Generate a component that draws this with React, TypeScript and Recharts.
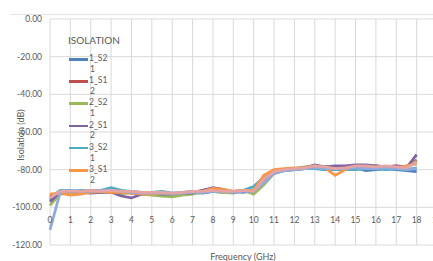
import { LineChart, Line, XAxis, YAxis, CartesianGrid, Legend } from 'recharts'

const freqs = [
  0, 0.5, 1, 1.5, 2, 2.5, 3, 3.5, 4, 4.5, 5, 5.5, 6, 6.5, 7, 7.5, 8, 8.5, 9,
  9.5, 10, 10.5, 11, 11.5, 12, 12.5, 13, 13.5, 14, 14.5, 15, 15.5, 16, 16.5, 17, 17.5, 18,
]

const s1_21 = [-96, -91.5, -91, -92, -91.5, -91, -91, -92, -91.5, -92.5, -93, -92.5, -93.5, -93, -92, -92.5, -91.5, -92, -91.5, -92, -91, -86, -82, -80.5, -80, -79.5, -79, -80, -79.5, -80, -79, -80.5, -80, -79.5, -80, -80.5, -81]
const s1_12 = [-94, -92, -92.5, -91.5, -91, -91.5, -91.5, -92, -92.5, -92, -92.5, -93, -93, -92.5, -92, -91, -90, -91, -91.5, -91, -91.5, -85, -81, -80, -79.5, -79, -78, -78.5, -79, -78.5, -78, -78.5, -78, -78.5, -78, -78.5, -75]
const s2_21 = [-99, -93, -92.5, -92, -91.5, -92, -91.5, -93, -92, -93, -93.5, -94, -94.5, -93.5, -93, -92, -91.5, -92, -92.5, -91, -93, -88, -82, -80, -79.5, -78.5, -78, -78.5, -79, -79, -78.5, -79, -78.5, -79, -79, -78.5, -75.5]
const s2_12 = [-97, -92, -91.5, -92, -92.5, -92, -92, -94, -95, -93, -92.5, -93, -93, -92.5, -92.5, -91, -89.5, -90.5, -92, -91.5, -91.5, -84, -80.5, -80, -79.5, -79, -77.5, -78.5, -78, -78, -77.5, -77.5, -78, -78.5, -78, -79, -72]
const s3_21 = [-95, -91, -91.5, -91, -91.5, -91, -89.5, -91, -91.5, -92, -92, -91.5, -92.5, -92, -91.5, -92, -91.5, -91, -92, -91, -89, -84, -81, -80.5, -80, -79.5, -79.5, -80, -80, -80, -80, -79.5, -79.5, -80, -79.5, -80, -79]
const s3_12 = [-93, -92.5, -93.5, -93, -92, -91.5, -92, -92, -92.5, -93, -93, -92.5, -93, -92.5, -92, -91.5, -90, -90.5, -91.5, -91, -91, -83, -80, -79.5, -79, -79, -78, -79, -83, -80, -78.5, -78.5, -79, -78.5, -79, -78, -77]
const s4_21 = [-112, -92, -91, -91.5, -91.5, -91, -91, -91.5, -92, -92.5, -92.5, -92.5, -93, -92.5, -92, -92, -91.5, -91.5, -92, -91.5, -91.5, -87, -82, -80.5, -80, -79.5, -79, -79.5, -79.5, -79.5, -79, -79.5, -79.5, -79, -79.5, -80, -79.5]
const s4_12 = [-95, -91.5, -91.5, -91.5, -91, -91.5, -91, -91.5, -91.5, -92, -92, -92, -92.5, -92, -91.5, -91.5, -91, -91.5, -91.5, -91, -91.5, -85, -81, -80, -79.5, -79, -78, -78.5, -79.5, -79, -78, -78, -78.5, -78, -78.5, -79, -76]

const seriesNames = ['1_S21', '1_S12', '2_S21', '2_S12', '3_S21', '3_S12', '4_S21', '4_S12']
const seriesColors = ['#4F81BD', '#C0504D', '#9BBB59', '#8064A2', '#4BACC6', '#F79646', '#8FAADC', '#E6A3A2']
const seriesValues = [s1_21, s1_12, s2_21, s2_12, s3_21, s3_12, s4_21, s4_12]

const xTicks = [0, 1, 2, 3, 4, 5, 6, 7, 8, 9, 10, 11, 12, 13, 14, 15, 16, 17, 18, 19]
const yTicks = [0, -20, -40, -60, -80, -100, -120]

const data = freqs.map((f, i) => {
  const row: any = { f }
  seriesNames.forEach((n, k) => { row[n] = seriesValues[k][i] })
  return row
})

const FONT = 'Lato, "Open Sans", sans-serif'
const TEXT = '#595959'

function IsolationLegend() {
  // only the first six entries fit in the original legend box
  return (
    <div style={{ position: 'relative', width: 80, height: 200, fontFamily: FONT, color: TEXT }}>
      <div style={{ position: 'absolute', left: 6, top: 2, fontSize: 10, lineHeight: '12px' }}>ISOLATION</div>
      {seriesNames.slice(0, 6).map((n, i) => (
        <div key={n} style={{ position: 'absolute', left: 0, top: 21 + i * 22.2, height: 22 }}>
          <div style={{ position: 'absolute', left: 7, top: 5, width: 19, height: 2.5, background: seriesColors[i] }} />
          <div style={{ position: 'absolute', left: 27, top: 0, fontSize: 8.5, lineHeight: '10.7px', whiteSpace: 'nowrap' }}>
            {n.slice(0, 4)}
            <br />
            <span style={{ paddingLeft: 1 }}>{n.slice(4)}</span>
          </div>
        </div>
      ))}
    </div>
  )
}

export default function App() {
  return (
    <div style={{ position: 'absolute', left: 0, top: 0, width: 433, height: 261, overflow: 'hidden', background: '#fff' }}>
      <div style={{ position: 'absolute', left: 10, top: 14, width: 423, height: 1, background: '#E3E3E3' }} />
      <LineChart width={440} height={261} data={data} margin={{ top: 19, right: 3, bottom: -14, left: 0 }}>
        <CartesianGrid stroke="#D9D9D9" />
        <XAxis
          dataKey="f"
          type="number"
          domain={[0, 19]}
          ticks={xTicks}
          interval={0}
          height={30}
          axisLine={false}
          tickLine={false}
          tick={(p: any) => (
            <text key={p.index} x={p.x} y={223} textAnchor="middle" fill={TEXT} fontSize={8.5} fontFamily={FONT}>
              {p.payload.value}
            </text>
          )}
        />
        <YAxis
          type="number"
          domain={[-120, 0]}
          ticks={yTicks}
          interval={0}
          width={50}
          axisLine={false}
          tickLine={false}
          tickFormatter={(v: number) => v.toFixed(2)}
          tick={{ fill: TEXT, fontSize: 8.5, fontFamily: FONT }}
        />
        <Legend
          layout="horizontal"
          align="center"
          verticalAlign="middle"
          wrapperStyle={{ left: 62, top: 32, width: 80, height: 200 }}
          content={() => <IsolationLegend />}
        />
        {seriesNames.map((n, i) => (
          <Line
            key={n}
            dataKey={n}
            name={n}
            type="linear"
            stroke={seriesColors[i]}
            strokeWidth={2.75}
            dot={false}
            isAnimationActive={false}
          />
        ))}
      </LineChart>
      <div
        style={{
          position: 'absolute', left: 20, top: 135, transform: 'translate(-50%, -50%) rotate(-90deg)',
          fontFamily: FONT, fontSize: 9, color: TEXT, whiteSpace: 'nowrap',
        }}
      >
        Isolation (dB)
      </div>
      <div
        style={{
          position: 'absolute', left: 243, top: 256, transform: 'translate(-50%, -50%)',
          fontFamily: FONT, fontSize: 9, color: TEXT, whiteSpace: 'nowrap',
        }}
      >
        Frequency (GHz)
      </div>
    </div>
  )
}
